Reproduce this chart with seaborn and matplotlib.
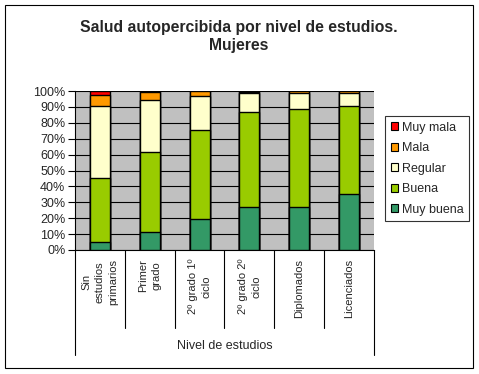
import pandas as pd
import seaborn as sns
import matplotlib.pyplot as plt
from matplotlib.patches import Patch, Rectangle

# Data (percent of women in each education level)
niveles = ["Sin\nestudios\nprimarios", "Primer\ngrado", "2º grado 1º\nciclo",
           "2º grado 2º\nciclo", "Diplomados", "Licenciados"]
muy_buena = [5.0, 11.3, 19.5, 27.0, 27.0, 35.2]
buena = [40.1, 50.3, 56.0, 59.8, 61.7, 55.4]
regular = [45.5, 32.7, 21.4, 11.9, 10.0, 8.1]
mala = [6.9, 4.9, 3.1, 0.8, 1.3, 1.3]
muy_mala = [2.5, 0.8, 0.0, 0.5, 0.0, 0.0]

categorias = ["Muy buena", "Buena", "Regular", "Mala", "Muy mala"]
colores = ["#339966", "#99CC00", "#FFFFCC", "#FF9900", "#FF0000"]

df = pd.DataFrame({"nivel": niveles, "Muy buena": muy_buena, "Buena": buena,
                   "Regular": regular, "Mala": mala, "Muy mala": muy_mala})
# cumulative sums for stacking
cum = df[categorias].cumsum(axis=1)
cum["nivel"] = df["nivel"]

sns.set_style("white")
plt.rcParams["font.family"] = ["Liberation Sans", "DejaVu Sans"]

W, H = 479, 374
fig = plt.figure(figsize=(W / 100, H / 100), dpi=100)
ax = fig.add_axes([75 / W, (H - 250) / H, 299 / W, 159 / H])
ax.set_facecolor("#C0C0C0")

# draw from the top of the stack down so lower segments overlay
for cat, col in reversed(list(zip(categorias, colores))):
    sns.barplot(data=cum, x="nivel", y=cat, color=col, width=0.4,
                edgecolor="black", linewidth=1, saturation=1, ax=ax, zorder=3)

ax.set_ylim(0, 100)
ax.set_xlim(-0.5, 5.5)
ax.set_yticks(range(0, 101, 10))
ax.set_yticklabels([f"{v}%" for v in range(0, 101, 10)], fontsize=9)
ax.yaxis.grid(True, color="black", linewidth=0.8)
ax.set_axisbelow(True)
ax.tick_params(axis="y", direction="out", length=5, width=0.8, color="black",
               left=True, pad=2)
ax.set_xticks([])
ax.set_xlabel("")
ax.set_ylabel("")
for s in ["top", "right"]:
    ax.spines[s].set_visible(False)
for s in ["left", "bottom"]:
    ax.spines[s].set_color("black")
    ax.spines[s].set_linewidth(0.8)

# category labels, rotated like Excel
for i, lab in enumerate(niveles):
    ax.text(i, -0.055, lab, transform=ax.get_xaxis_transform(), rotation=90,
            ha="center", va="top", multialignment="center", fontsize=8,
            linespacing=1.45)

# category separators below the axis
tr = ax.get_xaxis_transform()
for b in [0.5, 1.5, 2.5, 3.5, 4.5]:
    ax.plot([b, b], [0, -78 / 159], color="black", linewidth=0.8,
            transform=tr, clip_on=False)
for b in [-0.5, 5.5]:
    ax.plot([b, b], [0, -105 / 159], color="black", linewidth=0.8,
            transform=tr, clip_on=False)

fig.text(225 / W, 1 - 346 / H, "Nivel de estudios", ha="center", va="center",
         fontsize=9)
fig.text(239 / W, 1 - 36.5 / H, "Salud autopercibida por nivel de estudios.\nMujeres",
         ha="center", va="center", fontsize=11.3, fontweight="bold",
         linespacing=1.2)

handles = [Patch(facecolor=c, edgecolor="black", linewidth=0.8, label=l)
           for l, c in zip(reversed(categorias), reversed(colores))]
leg = fig.legend(handles=handles, loc="upper left",
                 bbox_to_anchor=(385 / W, 1 - 116 / H), fontsize=9,
                 frameon=True, fancybox=False, handlelength=0.6,
                 handleheight=0.6, handletextpad=0.3, labelspacing=0.68,
                 borderpad=0.45, borderaxespad=0)
leg.get_frame().set_edgecolor("black")
leg.get_frame().set_linewidth(0.8)

fig.patches.append(Rectangle((5 / W, 1 - 368 / H), 468 / W, 363 / H,
                             transform=fig.transFigure, fill=False,
                             edgecolor="black", linewidth=0.8))

fig.savefig("out.png", dpi=100)
